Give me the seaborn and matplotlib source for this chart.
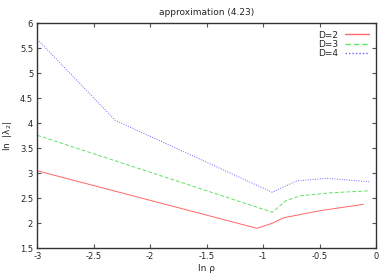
import seaborn as sns
import matplotlib.pyplot as plt
from matplotlib.lines import Line2D
import pandas as pd

# 数据点
x_d2 = [-3.0, -1.055, -0.92, -0.82, -0.5, -0.11]
y_d2 = [3.05, 1.90, 2.00, 2.11, 2.25, 2.38]

x_d3 = [-3.0, -0.917, -0.80, -0.67, -0.4, -0.057]
y_d3 = [3.76, 2.22, 2.45, 2.55, 2.61, 2.65]

x_d4 = [-3.0, -2.31, -0.92, -0.70, -0.43, -0.057]
y_d4 = [5.68, 4.06, 2.62, 2.85, 2.90, 2.83]

labels = ['D=2', 'D=3', 'D=4']
colors = ['#ff0000', '#00cc00', '#0000ff']
dashes = ['', (4, 2), (1, 1.5)]

frames = []
for xs, ys, lab in zip([x_d2, x_d3, x_d4], [y_d2, y_d3, y_d4], labels):
    frames.append(pd.DataFrame({'x': xs, 'y': ys, 'D': lab}))
df = pd.concat(frames, ignore_index=True)

sns.set_style('ticks')
plt.rcParams['font.family'] = ['DejaVu Sans']

fig = plt.figure(figsize=(3.89, 2.73), dpi=100)
ax = fig.add_axes([0.0959, 0.0905, 0.8707, 0.8242])

sns.lineplot(data=df, x='x', y='y', hue='D', style='D', ax=ax,
             palette=colors, dashes=dashes,
             linewidth=0.7, alpha=0.6, sort=False, legend=False)

ax.set_xlim(-3, 0)
ax.set_ylim(1.5, 6)
ax.set_xticks([-3, -2.5, -2, -1.5, -1, -0.5, 0])
ax.set_xticklabels(['-3', '-2.5', '-2', '-1.5', '-1', '-0.5', '0'])
ax.set_yticks([1.5, 2, 2.5, 3, 3.5, 4, 4.5, 5, 5.5, 6])
ax.set_yticklabels(['1.5', '2', '2.5', '3', '3.5', '4', '4.5', '5', '5.5', '6'])
ax.tick_params(direction='in', length=3, width=0.8, labelsize=6, color='#555555',
               top=True, right=True, pad=3)
for sp in ax.spines.values():
    sp.set_linewidth(1.0)
    sp.set_color('#333333')

ax.set_xlabel('ln ρ', fontsize=6.5, labelpad=2)
ax.set_ylabel('ln  |λ$_2$|', fontsize=6.5, labelpad=4)
ax.set_title('approximation (4.23)', fontsize=6.5, pad=6)

# 图例
handles = [Line2D([0], [0], color=colors[0], lw=1.0, alpha=0.6, linestyle='-'),
           Line2D([0], [0], color=colors[1], lw=1.0, alpha=0.6, linestyle=(0, (4, 2))),
           Line2D([0], [0], color=colors[2], lw=1.0, alpha=0.6, linestyle=(0, (1, 1.5)))]
ax.legend(handles, labels, loc='upper right', fontsize=6.5, frameon=False,
          markerfirst=False, handlelength=2.6, handletextpad=0.8,
          labelspacing=0.05, borderaxespad=0.4)

fig.savefig('out.png', dpi=100)
